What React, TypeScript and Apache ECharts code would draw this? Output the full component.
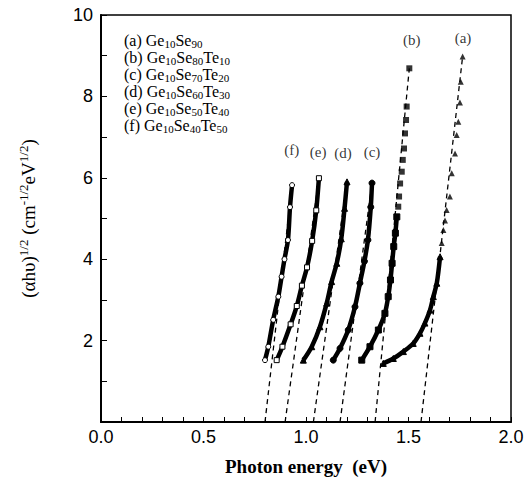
import React, { useEffect, useRef } from "react";
import * as echarts from "echarts";

// Curves: [photon energy (eV), (αhν)^1/2]
const curveA = [[1.377,1.44],[1.426,1.56],[1.475,1.73],[1.523,1.93],[1.556,2.18],[1.58,2.43],[1.605,2.75],[1.621,3.08],[1.638,3.41],[1.654,4.06]];
const curveASparse = [[1.662,4.4],[1.67,4.72],[1.678,4.95],[1.686,5.21],[1.702,5.54],[1.711,6.11],[1.727,6.6],[1.735,7.05],[1.743,7.38],[1.751,7.85],[1.755,8.36],[1.764,8.98]];
const curveB = [[1.272,1.52],[1.312,1.85],[1.353,2.26],[1.385,2.67],[1.401,3.08],[1.412,3.49],[1.42,3.9],[1.428,4.31],[1.436,4.64],[1.443,5.04]];
const curveBSparse = [[1.45,5.29],[1.454,5.54],[1.459,5.86],[1.467,6.15],[1.472,6.44],[1.478,6.72],[1.483,7.09],[1.488,7.42],[1.491,7.75],[1.504,8.69]];
const curveC = [[1.133,1.52],[1.166,1.81],[1.206,2.26],[1.239,2.83],[1.263,3.41],[1.285,3.95],[1.302,4.47],[1.316,5.28],[1.322,5.87]];
const curveD = [[0.987,1.52],[1.028,1.85],[1.068,2.34],[1.101,2.92],[1.125,3.45],[1.15,3.9],[1.172,4.5],[1.188,5.25],[1.2,5.9]];
const curveE = [[0.857,1.52],[0.885,1.85],[0.925,2.4],[0.955,2.85],[0.98,3.35],[1.005,3.8],[1.03,4.45],[1.05,5.2],[1.063,5.99]];
const curveF = [[0.8,1.52],[0.816,1.85],[0.84,2.51],[0.865,3.08],[0.881,3.57],[0.895,4.0],[0.912,4.47],[0.922,5.28],[0.932,5.82]];

// Dashed linear extrapolations to the energy axis
const fitA = [[1.561,0],[1.764,8.98]];
const fitB = [[1.337,0],[1.504,8.69]];
const fitC = [[1.166,0],[1.322,5.87]];
const fitD = [[1.036,0],[1.2,5.9]];
const fitE = [[0.898,0],[1.063,5.99]];
const fitF = [[0.8,0],[0.932,5.82]];

// Curve tags
const tagNames = ["(a)","(b)","(c)","(d)","(e)","(f)"];
const tagX = [1.766,1.516,1.322,1.18,1.059,0.93];
const tagY = [9.43,9.39,6.63,6.61,6.63,6.68];

// Legend text (composition)
const legendLines = [
  "(a) Ge{s|10}Se{s|90}",
  "(b) Ge{s|10}Se{s|80}Te{s|10}",
  "(c) Ge{s|10}Se{s|70}Te{s|20}",
  "(d) Ge{s|10}Se{s|60}Te{s|30}",
  "(e) Ge{s|10}Se{s|50}Te{s|40}",
  "(f) Ge{s|10}Se{s|40}Te{s|50}",
];

const SERIF = "'Liberation Serif', 'Times New Roman', serif";
const SANS = "'Liberation Sans', Arial, sans-serif";

export default function App() {
  const ref = useRef<HTMLDivElement>(null);
  useEffect(() => {
    if (!ref.current) return;
    const chart = echarts.init(ref.current, undefined, { renderer: "svg" });
    const dense = (data: number[][], symbol: string, size: number, fill = "#000") => ({
      type: "line",
      data,
      smooth: 0.3,
      symbol,
      symbolSize: size,
      showSymbol: true,
      itemStyle: { color: fill, borderColor: "#000", borderWidth: 1 },
      lineStyle: { color: "#000", width: 4.5 },
      z: 3,
    });
    const sparse = (data: number[][], symbol: string, size: number) => ({
      type: "scatter",
      data,
      symbol,
      symbolSize: size,
      itemStyle: { color: "#000" },
      z: 3,
    });
    const fit = (data: number[][]) => ({
      type: "line",
      data,
      symbol: "none",
      lineStyle: { color: "#000", width: 1.3, type: [5, 4] },
      z: 2,
    });
    chart.setOption({
      animation: false,
      backgroundColor: "#fff",
      grid: { left: 101, right: 16, top: 15, bottom: 68, show: true, borderColor: "#000", borderWidth: 1.5 },
      xAxis: {
        type: "value",
        min: 0,
        max: 2,
        interval: 0.5,
        name: "Photon energy  (eV)",
        nameLocation: "middle",
        nameGap: 35,
        nameTextStyle: { fontFamily: SERIF, fontWeight: "bold", fontSize: 19, color: "#000" },
        axisLine: { lineStyle: { color: "#000", width: 2 } },
        axisTick: { inside: true, length: 5, lineStyle: { color: "#000" } },
        minorTick: { show: true, splitNumber: 5, length: 5, lineStyle: { color: "#000" } },
        splitLine: { show: false },
        axisLabel: { fontFamily: SANS, fontSize: 18, color: "#000", margin: 6, formatter: (v: number) => v.toFixed(1) },
      },
      yAxis: {
        type: "value",
        min: 0,
        max: 10,
        interval: 2,
        name: "(αhυ){p|1/2} (cm{p|-1/2}eV{p|1/2})",
        nameLocation: "middle",
        nameGap: 62,
        nameTextStyle: {
          fontFamily: SERIF, fontSize: 19, color: "#000", lineHeight: 22,
          rich: { p: { fontFamily: SERIF, fontSize: 13, lineHeight: 12, verticalAlign: "top", color: "#000" } },
        },
        axisLine: { lineStyle: { color: "#000", width: 2 } },
        axisTick: { inside: true, length: 6, lineStyle: { color: "#000" } },
        minorTick: { show: true, splitNumber: 2, length: 6, lineStyle: { color: "#000" } },
        splitLine: { show: false },
        axisLabel: { fontFamily: SANS, fontSize: 18, color: "#000", margin: 8, formatter: (v: number) => (v === 0 ? "" : String(v)) },
      },
      graphic: [
        {
          type: "text",
          left: 124,
          top: 32,
          style: {
            text: legendLines.join("\n"),
            fontFamily: SERIF,
            fontSize: 16,
            lineHeight: 17,
            fill: "#000",
            rich: { s: { fontFamily: SERIF, fontSize: 11, lineHeight: 10, verticalAlign: "bottom", fill: "#000" } },
          },
        },
      ],
      series: [
        fit(fitA), fit(fitB), fit(fitC), fit(fitD), fit(fitE), fit(fitF),
        dense(curveA, "triangle", 6),
        sparse(curveASparse, "triangle", 6),
        dense(curveB, "rect", 6),
        sparse(curveBSparse, "rect", 6),
        dense(curveC, "circle", 6),
        dense(curveD, "triangle", 6),
        dense(curveE, "rect", 5, "#fff"),
        dense(curveF, "circle", 5, "#fff"),
        {
          type: "scatter",
          symbolSize: 0,
          data: tagNames.map((n, i) => ({ name: n, value: [tagX[i], tagY[i]] })),
          label: { show: true, position: "inside", formatter: "{b}", fontFamily: SERIF, fontSize: 15, color: "#000" },
          z: 4,
        },
      ],
    });
    return () => chart.dispose();
  }, []);
  return <div ref={ref} style={{ position: "fixed", left: 0, top: 0, width: 527, height: 490, background: "#fff" }} />;
}
